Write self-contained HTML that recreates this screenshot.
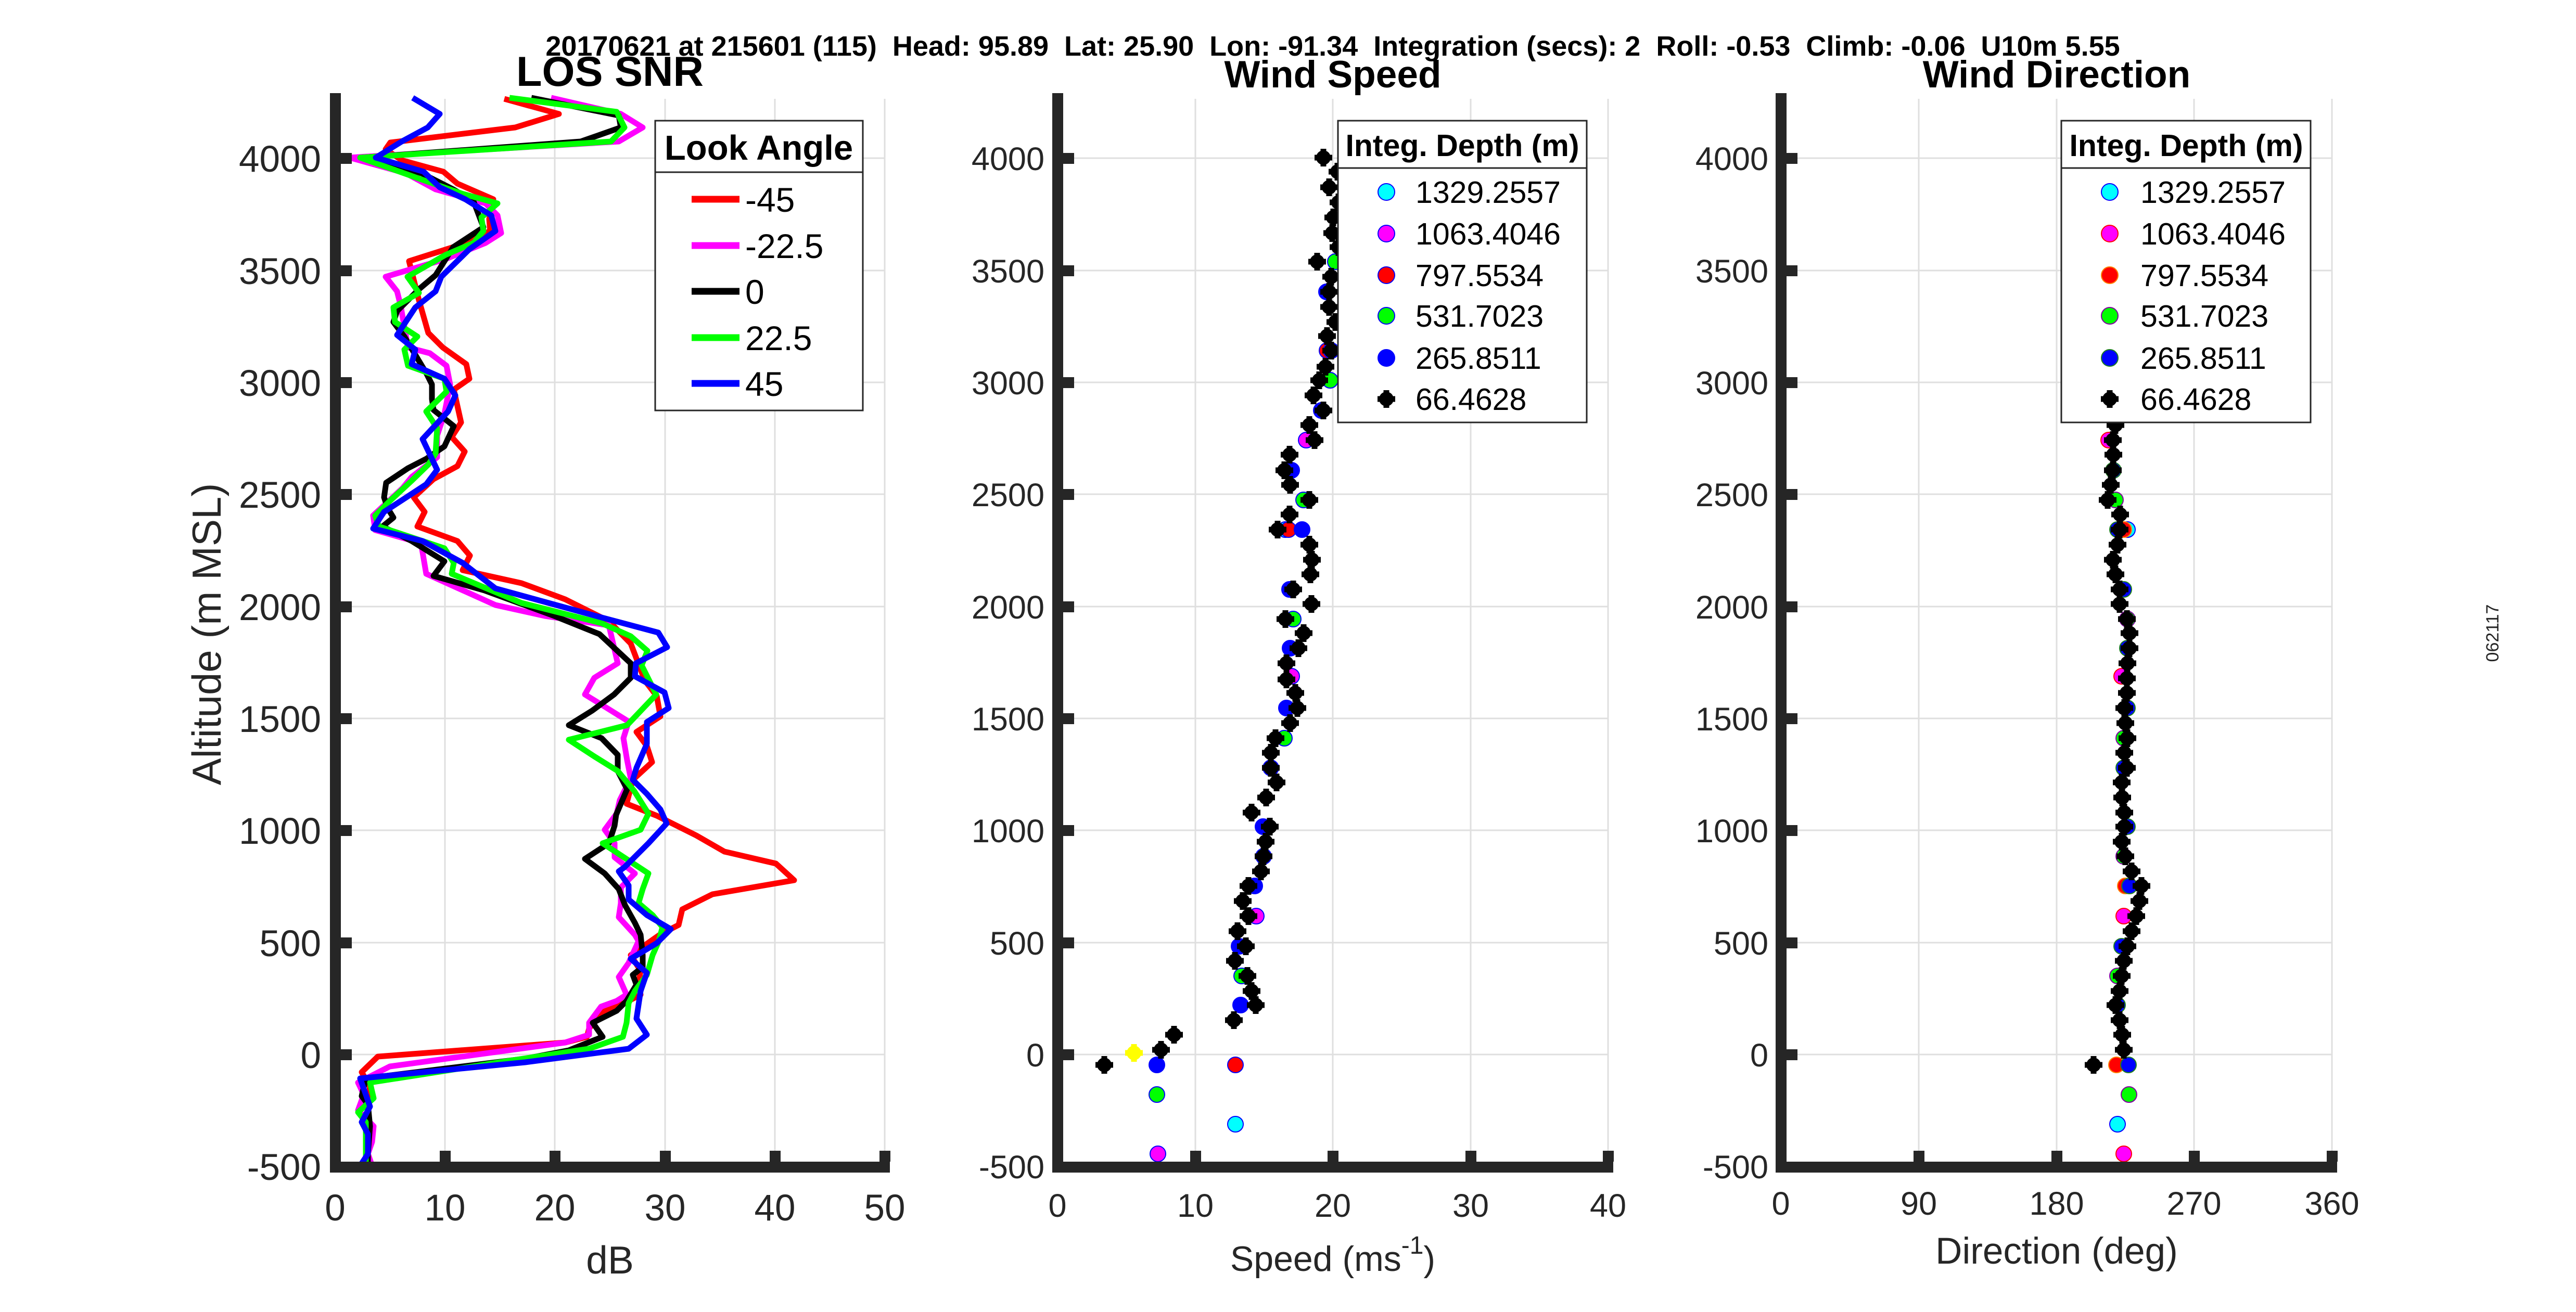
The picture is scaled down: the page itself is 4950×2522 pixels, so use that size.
<!DOCTYPE html>
<html><head><meta charset="utf-8"><style>html,body{margin:0;padding:0;background:#fff;}svg{display:block}</style></head>
<body>
<svg width="4950" height="2522" viewBox="0 0 4950 2522" xmlns="http://www.w3.org/2000/svg" font-family="'Liberation Sans', Arial, sans-serif">
<defs>
<g id="bk"><circle r="14" fill="#000"/><path d="M-17 0H17M0 -17V17" stroke="#000" stroke-width="11"/></g>
<g id="yl"><circle r="14" fill="#ffff00"/><path d="M-17 0H17M0 -17V17" stroke="#ffff00" stroke-width="11"/></g>
</defs>
<rect width="4950" height="2522" fill="#fff"/>

<!-- overall title -->
<text x="2561" y="107" font-size="54" font-weight="bold" text-anchor="middle" fill="#000" xml:space="preserve">20170621 at 215601 (115)  Head: 95.89  Lat: 25.90  Lon: -91.34  Integration (secs): 2  Roll: -0.53  Climb: -0.06  U10m 5.55</text>

<!-- ============ PANEL 1 ============ -->
<g stroke="#dfdfdf" stroke-width="3">
<line x1="855" y1="190" x2="855" y2="2243"/><line x1="1066" y1="190" x2="1066" y2="2243"/><line x1="1278" y1="190" x2="1278" y2="2243"/><line x1="1489" y1="190" x2="1489" y2="2243"/><line x1="1700" y1="190" x2="1700" y2="2243"/>
<line x1="644" y1="304" x2="1700" y2="304"/><line x1="644" y1="520" x2="1700" y2="520"/><line x1="644" y1="735" x2="1700" y2="735"/><line x1="644" y1="950" x2="1700" y2="950"/><line x1="644" y1="1166" x2="1700" y2="1166"/><line x1="644" y1="1381" x2="1700" y2="1381"/><line x1="644" y1="1596" x2="1700" y2="1596"/><line x1="644" y1="1812" x2="1700" y2="1812"/><line x1="644" y1="2027" x2="1700" y2="2027"/>
</g>
<g fill="none" stroke-width="11" stroke-linejoin="round" stroke-linecap="butt">
<polyline stroke="#ff0000" points="969,190 1074,219 990,245 750,274 741,287 772,308 852,330 879,353 948,383 940,421 942,444 871,475 786,502 805,577 823,640 851,668 896,700 902,728 872,749 886,812 868,840 893,868 879,896 833,921 795,956 816,984 802,1012 879,1040 903,1068 889,1096 1002,1121 1086,1152 1170,1194 1212,1237 1239,1308 1262,1338 1269,1377 1223,1407 1243,1434 1253,1465 1216,1499 1204,1545 1262,1568 1338,1606 1392,1637 1491,1660 1526,1692 1369,1719 1311,1748 1304,1778 1269,1796 1212,1836 1231,1866 1227,1889 1231,1912 1200,1928 1155,1947 1132,1977 1128,1993 1086,2004 726,2031 695,2061 711,2088 707,2127 703,2180 707,2218 715,2241"/>
<polyline stroke="#ff00ff" points="1059,188 1193,219 1235,245 1189,272 672,303 780,333 837,364 933,391 956,414 963,448 933,467 856,498 741,532 763,560 770,588 784,668 826,679 858,703 865,739 854,795 840,837 840,879 791,917 774,938 717,991 721,1019 809,1044 819,1103 952,1163 1047,1184 1170,1202 1187,1275 1142,1303 1124,1335 1163,1359 1208,1387 1198,1419 1205,1461 1212,1496 1191,1538 1185,1564 1162,1595 1181,1621 1181,1648 1220,1679 1193,1706 1193,1736 1189,1763 1220,1797 1227,1809 1208,1851 1189,1878 1204,1912 1185,1924 1155,1935 1132,1966 1132,1989 1086,2004 749,2050 688,2081 699,2104 688,2134 718,2165 715,2195 707,2218 715,2241"/>
<polyline stroke="#000000" points="1021,188 1189,222 1193,245 1116,272 695,303 810,333 871,364 910,387 929,437 871,475 837,529 805,556 763,598 756,619 777,647 819,717 830,739 830,767 833,788 872,819 854,858 819,882 784,900 742,928 738,956 745,977 756,995 735,1012 791,1040 854,1079 833,1107 931,1135 1016,1166 1065,1184 1152,1219 1212,1275 1212,1303 1180,1335 1138,1366 1093,1394 1156,1419 1187,1451 1187,1482 1205,1517 1184,1566 1181,1587 1170,1621 1124,1651 1162,1679 1189,1709 1201,1740 1220,1774 1231,1797 1235,1836 1235,1859 1216,1874 1223,1893 1204,1924 1185,1943 1139,1966 1158,1993 1093,2019 1009,2035 856,2054 703,2073 695,2107 707,2123 711,2165 707,2218 707,2241"/>
<polyline stroke="#00ff00" points="979,188 1185,215 1200,245 1174,272 692,303 810,345 887,372 956,391 925,418 929,444 910,467 856,490 783,532 805,563 756,591 759,619 802,647 777,672 784,703 854,728 858,753 819,791 840,823 837,872 823,893 790,925 749,963 721,991 728,1012 749,1019 854,1054 872,1082 868,1103 1002,1159 1156,1198 1212,1223 1244,1251 1233,1279 1261,1335 1205,1394 1093,1422 1142,1454 1187,1482 1219,1521 1246,1564 1231,1595 1158,1621 1246,1679 1235,1709 1227,1736 1254,1759 1273,1782 1266,1809 1254,1836 1243,1874 1220,1905 1208,1928 1204,1966 1197,1993 1132,2016 979,2039 711,2081 718,2111 688,2138 703,2157 703,2241"/>
<polyline stroke="#0000ff" points="793,188 845,219 822,245 772,272 722,303 814,330 845,360 894,383 944,414 952,444 902,479 848,532 837,560 798,591 763,644 798,672 791,700 854,728 875,760 861,791 812,844 840,903 819,931 738,984 717,1016 812,1040 889,1082 952,1131 1145,1184 1265,1216 1282,1244 1222,1275 1220,1300 1277,1331 1285,1361 1243,1388 1243,1430 1223,1476 1216,1499 1243,1526 1269,1556 1281,1583 1246,1621 1200,1667 1189,1675 1208,1702 1208,1729 1243,1759 1289,1786 1262,1813 1212,1843 1243,1870 1231,1905 1223,1958 1243,1989 1208,2016 1009,2042 692,2073 711,2127 695,2157 707,2180 707,2218 692,2241"/>
</g>
<!-- axes panel 1 -->
<g fill="#262626">
<rect x="634" y="179" width="21" height="2075"/>
<rect x="634" y="2233" width="1076" height="21"/>
<rect x="655" y="294" width="21" height="21"/><rect x="655" y="510" width="21" height="21"/><rect x="655" y="725" width="21" height="21"/><rect x="655" y="940" width="21" height="21"/><rect x="655" y="1156" width="21" height="21"/><rect x="655" y="1371" width="21" height="21"/><rect x="655" y="1586" width="21" height="21"/><rect x="655" y="1802" width="21" height="21"/><rect x="655" y="2017" width="21" height="21"/>
<rect x="845" y="2212" width="21" height="21"/><rect x="1056" y="2212" width="21" height="21"/><rect x="1268" y="2212" width="21" height="21"/><rect x="1479" y="2212" width="21" height="21"/><rect x="1690" y="2212" width="21" height="21"/>
</g>
<g font-size="71" fill="#262626" text-anchor="end">
<text x="617" y="330">4000</text><text x="617" y="546">3500</text><text x="617" y="761">3000</text><text x="617" y="976">2500</text><text x="617" y="1192">2000</text><text x="617" y="1407">1500</text><text x="617" y="1622">1000</text><text x="617" y="1838">500</text><text x="617" y="2053">0</text><text x="617" y="2268">-500</text>
</g>
<g font-size="71" fill="#262626" text-anchor="middle">
<text x="644" y="2346">0</text><text x="855" y="2346">10</text><text x="1066" y="2346">20</text><text x="1278" y="2346">30</text><text x="1489" y="2346">40</text><text x="1700" y="2346">50</text>
</g>
<text x="1172" y="2448" font-size="75" fill="#262626" text-anchor="middle">dB</text>
<text x="1172" y="165" font-size="81" font-weight="bold" fill="#000" text-anchor="middle">LOS SNR</text>
<text transform="translate(424,1219) rotate(-90)" font-size="78" fill="#262626" text-anchor="middle">Altitude (m MSL)</text>
<!-- legend panel 1 -->
<rect x="1259" y="232" width="399" height="557" fill="#fff" stroke="#262626" stroke-width="3"/>
<line x1="1259" y1="331" x2="1658" y2="331" stroke="#262626" stroke-width="3"/>
<text x="1458" y="307" font-size="67" font-weight="bold" fill="#000" text-anchor="middle">Look Angle</text>
<g stroke-width="13">
<line x1="1329" y1="383" x2="1421" y2="383" stroke="#ff0000"/>
<line x1="1329" y1="472" x2="1421" y2="472" stroke="#ff00ff"/>
<line x1="1329" y1="560" x2="1421" y2="560" stroke="#000000"/>
<line x1="1329" y1="649" x2="1421" y2="649" stroke="#00ff00"/>
<line x1="1329" y1="737" x2="1421" y2="737" stroke="#0000ff"/>
</g>
<g font-size="66" fill="#000">
<text x="1432" y="407">-45</text><text x="1432" y="496">-22.5</text><text x="1432" y="584">0</text><text x="1432" y="673">22.5</text><text x="1432" y="761">45</text>
</g>

<!-- ============ PANEL 2 ============ -->
<g stroke="#dfdfdf" stroke-width="3">
<line x1="2297" y1="190" x2="2297" y2="2243"/><line x1="2561" y1="190" x2="2561" y2="2243"/><line x1="2826" y1="190" x2="2826" y2="2243"/><line x1="3090" y1="190" x2="3090" y2="2243"/>
<line x1="2032" y1="304" x2="3090" y2="304"/><line x1="2032" y1="520" x2="3090" y2="520"/><line x1="2032" y1="735" x2="3090" y2="735"/><line x1="2032" y1="950" x2="3090" y2="950"/><line x1="2032" y1="1166" x2="3090" y2="1166"/><line x1="2032" y1="1381" x2="3090" y2="1381"/><line x1="2032" y1="1596" x2="3090" y2="1596"/><line x1="2032" y1="1812" x2="3090" y2="1812"/><line x1="2032" y1="2027" x2="3090" y2="2027"/>
</g>
<g stroke="#0000ff" stroke-width="2">
<g fill="#00ffff"><circle cx="2470" cy="1018" r="15"/><circle cx="2374" cy="2161" r="15"/></g>
<g fill="#ff00ff"><circle cx="2510" cy="846" r="15"/><circle cx="2482" cy="1300" r="15"/><circle cx="2414" cy="1761" r="15"/><circle cx="2225" cy="2218" r="15"/></g>
<g fill="#ff0000"><circle cx="2550" cy="674" r="15"/><circle cx="2476" cy="1018" r="15"/><circle cx="2374" cy="2047" r="15"/></g>
<g fill="#00ff00"><circle cx="2566" cy="503" r="15"/><circle cx="2556" cy="731" r="15"/><circle cx="2505" cy="961" r="15"/><circle cx="2485" cy="1190" r="15"/><circle cx="2468" cy="1419" r="15"/><circle cx="2428" cy="1646" r="15"/><circle cx="2386" cy="1876" r="15"/><circle cx="2223" cy="2104" r="15"/></g>
<g fill="#0000ff"><circle cx="2549" cy="561" r="15"/><circle cx="2558" cy="674" r="15"/><circle cx="2539" cy="789" r="15"/><circle cx="2482" cy="904" r="15"/><circle cx="2502" cy="1018" r="15"/><circle cx="2478" cy="1133" r="15"/><circle cx="2479" cy="1246" r="15"/><circle cx="2472" cy="1361" r="15"/><circle cx="2442" cy="1476" r="15"/><circle cx="2427" cy="1589" r="15"/><circle cx="2411" cy="1703" r="15"/><circle cx="2381" cy="1819" r="15"/><circle cx="2384" cy="1932" r="15"/><circle cx="2223" cy="2047" r="15"/></g>
</g>
<g>
<use href="#bk" x="2543" y="303"/><use href="#bk" x="2570" y="330"/><use href="#bk" x="2554" y="360"/><use href="#bk" x="2572" y="389"/><use href="#bk" x="2562" y="418"/><use href="#bk" x="2560" y="448"/><use href="#bk" x="2572" y="475"/><use href="#bk" x="2531" y="503"/><use href="#bk" x="2558" y="532"/><use href="#bk" x="2554" y="561"/><use href="#bk" x="2554" y="590"/><use href="#bk" x="2566" y="619"/><use href="#bk" x="2550" y="646"/><use href="#bk" x="2558" y="674"/><use href="#bk" x="2547" y="705"/><use href="#bk" x="2535" y="731"/><use href="#bk" x="2524" y="760"/><use href="#bk" x="2543" y="789"/><use href="#bk" x="2516" y="817"/><use href="#bk" x="2526" y="846"/><use href="#bk" x="2478" y="874"/><use href="#bk" x="2468" y="904"/><use href="#bk" x="2479" y="932"/><use href="#bk" x="2516" y="961"/><use href="#bk" x="2478" y="989"/><use href="#bk" x="2455" y="1018"/><use href="#bk" x="2516" y="1047"/><use href="#bk" x="2521" y="1076"/><use href="#bk" x="2518" y="1104"/><use href="#bk" x="2485" y="1133"/><use href="#bk" x="2520" y="1161"/><use href="#bk" x="2470" y="1190"/><use href="#bk" x="2505" y="1217"/><use href="#bk" x="2495" y="1246"/><use href="#bk" x="2472" y="1275"/>
<use href="#bk" x="2472" y="1306"/><use href="#bk" x="2489" y="1332"/><use href="#bk" x="2493" y="1361"/><use href="#bk" x="2479" y="1390"/><use href="#bk" x="2451" y="1419"/><use href="#bk" x="2442" y="1447"/><use href="#bk" x="2442" y="1476"/><use href="#bk" x="2453" y="1504"/><use href="#bk" x="2433" y="1533"/><use href="#bk" x="2405" y="1562"/><use href="#bk" x="2440" y="1589"/><use href="#bk" x="2432" y="1618"/><use href="#bk" x="2428" y="1646"/><use href="#bk" x="2423" y="1675"/><use href="#bk" x="2399" y="1703"/><use href="#bk" x="2388" y="1732"/><use href="#bk" x="2399" y="1761"/><use href="#bk" x="2378" y="1790"/><use href="#bk" x="2394" y="1819"/><use href="#bk" x="2373" y="1847"/><use href="#bk" x="2397" y="1876"/><use href="#bk" x="2405" y="1905"/><use href="#bk" x="2413" y="1932"/><use href="#bk" x="2371" y="1961"/><use href="#bk" x="2256" y="1989"/><use href="#bk" x="2231" y="2018"/><use href="#bk" x="2122" y="2047"/>
<use href="#yl" x="2179" y="2024"/>
</g>
<g fill="#262626">
<rect x="2022" y="179" width="21" height="2075"/>
<rect x="2022" y="2233" width="1078" height="21"/>
<rect x="2043" y="294" width="21" height="21"/><rect x="2043" y="510" width="21" height="21"/><rect x="2043" y="725" width="21" height="21"/><rect x="2043" y="940" width="21" height="21"/><rect x="2043" y="1156" width="21" height="21"/><rect x="2043" y="1371" width="21" height="21"/><rect x="2043" y="1586" width="21" height="21"/><rect x="2043" y="1802" width="21" height="21"/><rect x="2043" y="2017" width="21" height="21"/>
<rect x="2287" y="2212" width="21" height="21"/><rect x="2551" y="2212" width="21" height="21"/><rect x="2816" y="2212" width="21" height="21"/><rect x="3080" y="2212" width="21" height="21"/>
</g>
<g font-size="63" fill="#262626" text-anchor="end">
<text x="2007" y="327">4000</text><text x="2007" y="543">3500</text><text x="2007" y="758">3000</text><text x="2007" y="973">2500</text><text x="2007" y="1189">2000</text><text x="2007" y="1404">1500</text><text x="2007" y="1619">1000</text><text x="2007" y="1835">500</text><text x="2007" y="2050">0</text><text x="2007" y="2265">-500</text>
</g>
<g font-size="63" fill="#262626" text-anchor="middle">
<text x="2032" y="2339">0</text><text x="2297" y="2339">10</text><text x="2561" y="2339">20</text><text x="2826" y="2339">30</text><text x="3090" y="2339">40</text>
</g>
<text x="2561" y="2443" font-size="68" fill="#262626" text-anchor="middle">Speed (ms<tspan font-size="48" dy="-33">-1</tspan><tspan dy="33">)</tspan></text>
<text x="2561" y="168" font-size="73" font-weight="bold" fill="#000" text-anchor="middle">Wind Speed</text>
<!-- legend panel 2 -->
<rect x="2571" y="232" width="478" height="580" fill="#fff" stroke="#262626" stroke-width="3"/>
<line x1="2571" y1="323" x2="3049" y2="323" stroke="#262626" stroke-width="3"/>
<text x="2810" y="300" font-size="59" font-weight="bold" fill="#000" text-anchor="middle">Integ. Depth (m)</text>
<g stroke="#0000ff" stroke-width="2">
<circle cx="2664" cy="369" r="16" fill="#00ffff"/><circle cx="2664" cy="449" r="16" fill="#ff00ff"/><circle cx="2664" cy="529" r="16" fill="#ff0000"/><circle cx="2664" cy="607" r="16" fill="#00ff00"/><circle cx="2664" cy="688" r="16" fill="#0000ff"/>
</g>
<use href="#bk" x="2664" y="767"/>
<g font-size="59" fill="#000">
<text x="2720" y="390">1329.2557</text><text x="2720" y="470">1063.4046</text><text x="2720" y="550">797.5534</text><text x="2720" y="628">531.7023</text><text x="2720" y="709">265.8511</text><text x="2720" y="788">66.4628</text>
</g>

<!-- ============ PANEL 3 ============ -->
<g stroke="#dfdfdf" stroke-width="3">
<line x1="3687" y1="190" x2="3687" y2="2243"/><line x1="3952" y1="190" x2="3952" y2="2243"/><line x1="4216" y1="190" x2="4216" y2="2243"/><line x1="4481" y1="190" x2="4481" y2="2243"/>
<line x1="3422" y1="304" x2="4481" y2="304"/><line x1="3422" y1="520" x2="4481" y2="520"/><line x1="3422" y1="735" x2="4481" y2="735"/><line x1="3422" y1="950" x2="4481" y2="950"/><line x1="3422" y1="1166" x2="4481" y2="1166"/><line x1="3422" y1="1381" x2="4481" y2="1381"/><line x1="3422" y1="1596" x2="4481" y2="1596"/><line x1="3422" y1="1812" x2="4481" y2="1812"/><line x1="3422" y1="2027" x2="4481" y2="2027"/>
</g>
<g stroke-width="2">
<g fill="#00ffff" stroke="#0000ff"><circle cx="4088" cy="1018" r="15"/><circle cx="4069" cy="2161" r="15"/></g>
<g fill="#ff00ff" stroke="#ff0000"><circle cx="4052" cy="846" r="15"/><circle cx="4077" cy="1300" r="15"/><circle cx="4081" cy="1761" r="15"/><circle cx="4081" cy="2218" r="15"/></g>
<g fill="#ff0000" stroke="#ff8000"><circle cx="4081" cy="1018" r="15"/><circle cx="4084" cy="1703" r="15"/><circle cx="4067" cy="2047" r="15"/></g>
<g fill="#00ff00" stroke="#8000a0"><circle cx="4065" cy="961" r="15"/><circle cx="4088" cy="1190" r="15"/><circle cx="4081" cy="1419" r="15"/><circle cx="4081" cy="1646" r="15"/><circle cx="4069" cy="1876" r="15"/><circle cx="4091" cy="2104" r="15"/></g>
<g fill="#0000ff" stroke="#208020"><circle cx="4061" cy="904" r="15"/><circle cx="4069" cy="1018" r="15"/><circle cx="4081" cy="1133" r="15"/><circle cx="4088" cy="1246" r="15"/><circle cx="4088" cy="1361" r="15"/><circle cx="4081" cy="1476" r="15"/><circle cx="4088" cy="1589" r="15"/><circle cx="4092" cy="1703" r="15"/><circle cx="4077" cy="1819" r="15"/><circle cx="4069" cy="1932" r="15"/><circle cx="4090" cy="2047" r="15"/></g>
</g>
<g>
<use href="#bk" x="4065" y="817"/><use href="#bk" x="4060" y="846"/><use href="#bk" x="4061" y="874"/><use href="#bk" x="4060" y="904"/><use href="#bk" x="4056" y="932"/><use href="#bk" x="4050" y="961"/><use href="#bk" x="4074" y="989"/><use href="#bk" x="4073" y="1018"/><use href="#bk" x="4069" y="1047"/><use href="#bk" x="4060" y="1076"/><use href="#bk" x="4065" y="1104"/><use href="#bk" x="4073" y="1133"/><use href="#bk" x="4073" y="1161"/><use href="#bk" x="4087" y="1190"/><use href="#bk" x="4092" y="1217"/><use href="#bk" x="4092" y="1246"/><use href="#bk" x="4088" y="1275"/>
<use href="#bk" x="4087" y="1304"/><use href="#bk" x="4087" y="1332"/><use href="#bk" x="4082" y="1361"/><use href="#bk" x="4084" y="1390"/><use href="#bk" x="4088" y="1419"/><use href="#bk" x="4082" y="1447"/><use href="#bk" x="4087" y="1476"/><use href="#bk" x="4077" y="1504"/><use href="#bk" x="4078" y="1533"/><use href="#bk" x="4082" y="1562"/><use href="#bk" x="4082" y="1589"/><use href="#bk" x="4077" y="1618"/><use href="#bk" x="4084" y="1646"/><use href="#bk" x="4096" y="1675"/><use href="#bk" x="4115" y="1703"/><use href="#bk" x="4111" y="1732"/><use href="#bk" x="4105" y="1761"/><use href="#bk" x="4096" y="1790"/><use href="#bk" x="4088" y="1819"/><use href="#bk" x="4081" y="1847"/><use href="#bk" x="4077" y="1876"/><use href="#bk" x="4073" y="1905"/><use href="#bk" x="4065" y="1932"/><use href="#bk" x="4073" y="1961"/><use href="#bk" x="4078" y="1989"/><use href="#bk" x="4081" y="2018"/><use href="#bk" x="4023" y="2047"/>
</g>
<g fill="#262626">
<rect x="3412" y="179" width="21" height="2075"/>
<rect x="3412" y="2233" width="1079" height="21"/>
<rect x="3433" y="294" width="21" height="21"/><rect x="3433" y="510" width="21" height="21"/><rect x="3433" y="725" width="21" height="21"/><rect x="3433" y="940" width="21" height="21"/><rect x="3433" y="1156" width="21" height="21"/><rect x="3433" y="1371" width="21" height="21"/><rect x="3433" y="1586" width="21" height="21"/><rect x="3433" y="1802" width="21" height="21"/><rect x="3433" y="2017" width="21" height="21"/>
<rect x="3677" y="2212" width="21" height="21"/><rect x="3942" y="2212" width="21" height="21"/><rect x="4206" y="2212" width="21" height="21"/><rect x="4471" y="2212" width="21" height="21"/>
</g>
<g font-size="63" fill="#262626" text-anchor="end">
<text x="3398" y="327">4000</text><text x="3398" y="543">3500</text><text x="3398" y="758">3000</text><text x="3398" y="973">2500</text><text x="3398" y="1189">2000</text><text x="3398" y="1404">1500</text><text x="3398" y="1619">1000</text><text x="3398" y="1835">500</text><text x="3398" y="2050">0</text><text x="3398" y="2265">-500</text>
</g>
<g font-size="63" fill="#262626" text-anchor="middle">
<text x="3422" y="2335">0</text><text x="3687" y="2335">90</text><text x="3952" y="2335">180</text><text x="4216" y="2335">270</text><text x="4481" y="2335">360</text>
</g>
<text x="3952" y="2429" font-size="71" fill="#262626" text-anchor="middle">Direction (deg)</text>
<text x="3952" y="168" font-size="73" font-weight="bold" fill="#000" text-anchor="middle">Wind Direction</text>
<!-- legend panel 3 -->
<rect x="3961" y="232" width="479" height="580" fill="#fff" stroke="#262626" stroke-width="3"/>
<line x1="3961" y1="323" x2="4440" y2="323" stroke="#262626" stroke-width="3"/>
<text x="4201" y="300" font-size="59" font-weight="bold" fill="#000" text-anchor="middle">Integ. Depth (m)</text>
<g stroke-width="2">
<circle cx="4054" cy="369" r="16" fill="#00ffff" stroke="#0000ff"/><circle cx="4054" cy="449" r="16" fill="#ff00ff" stroke="#ff0000"/><circle cx="4054" cy="529" r="16" fill="#ff0000" stroke="#ff8000"/><circle cx="4054" cy="607" r="16" fill="#00ff00" stroke="#8000a0"/><circle cx="4054" cy="688" r="16" fill="#0000ff" stroke="#208020"/>
</g>
<use href="#bk" x="4054" y="767"/>
<g font-size="59" fill="#000">
<text x="4113" y="390">1329.2557</text><text x="4113" y="470">1063.4046</text><text x="4113" y="550">797.5534</text><text x="4113" y="628">531.7023</text><text x="4113" y="709">265.8511</text><text x="4113" y="788">66.4628</text>
</g>

<!-- side stamp -->
<text transform="translate(4801,1217) rotate(-90)" font-size="34" fill="#262626" text-anchor="middle">062117</text>
</svg>
</body></html>
